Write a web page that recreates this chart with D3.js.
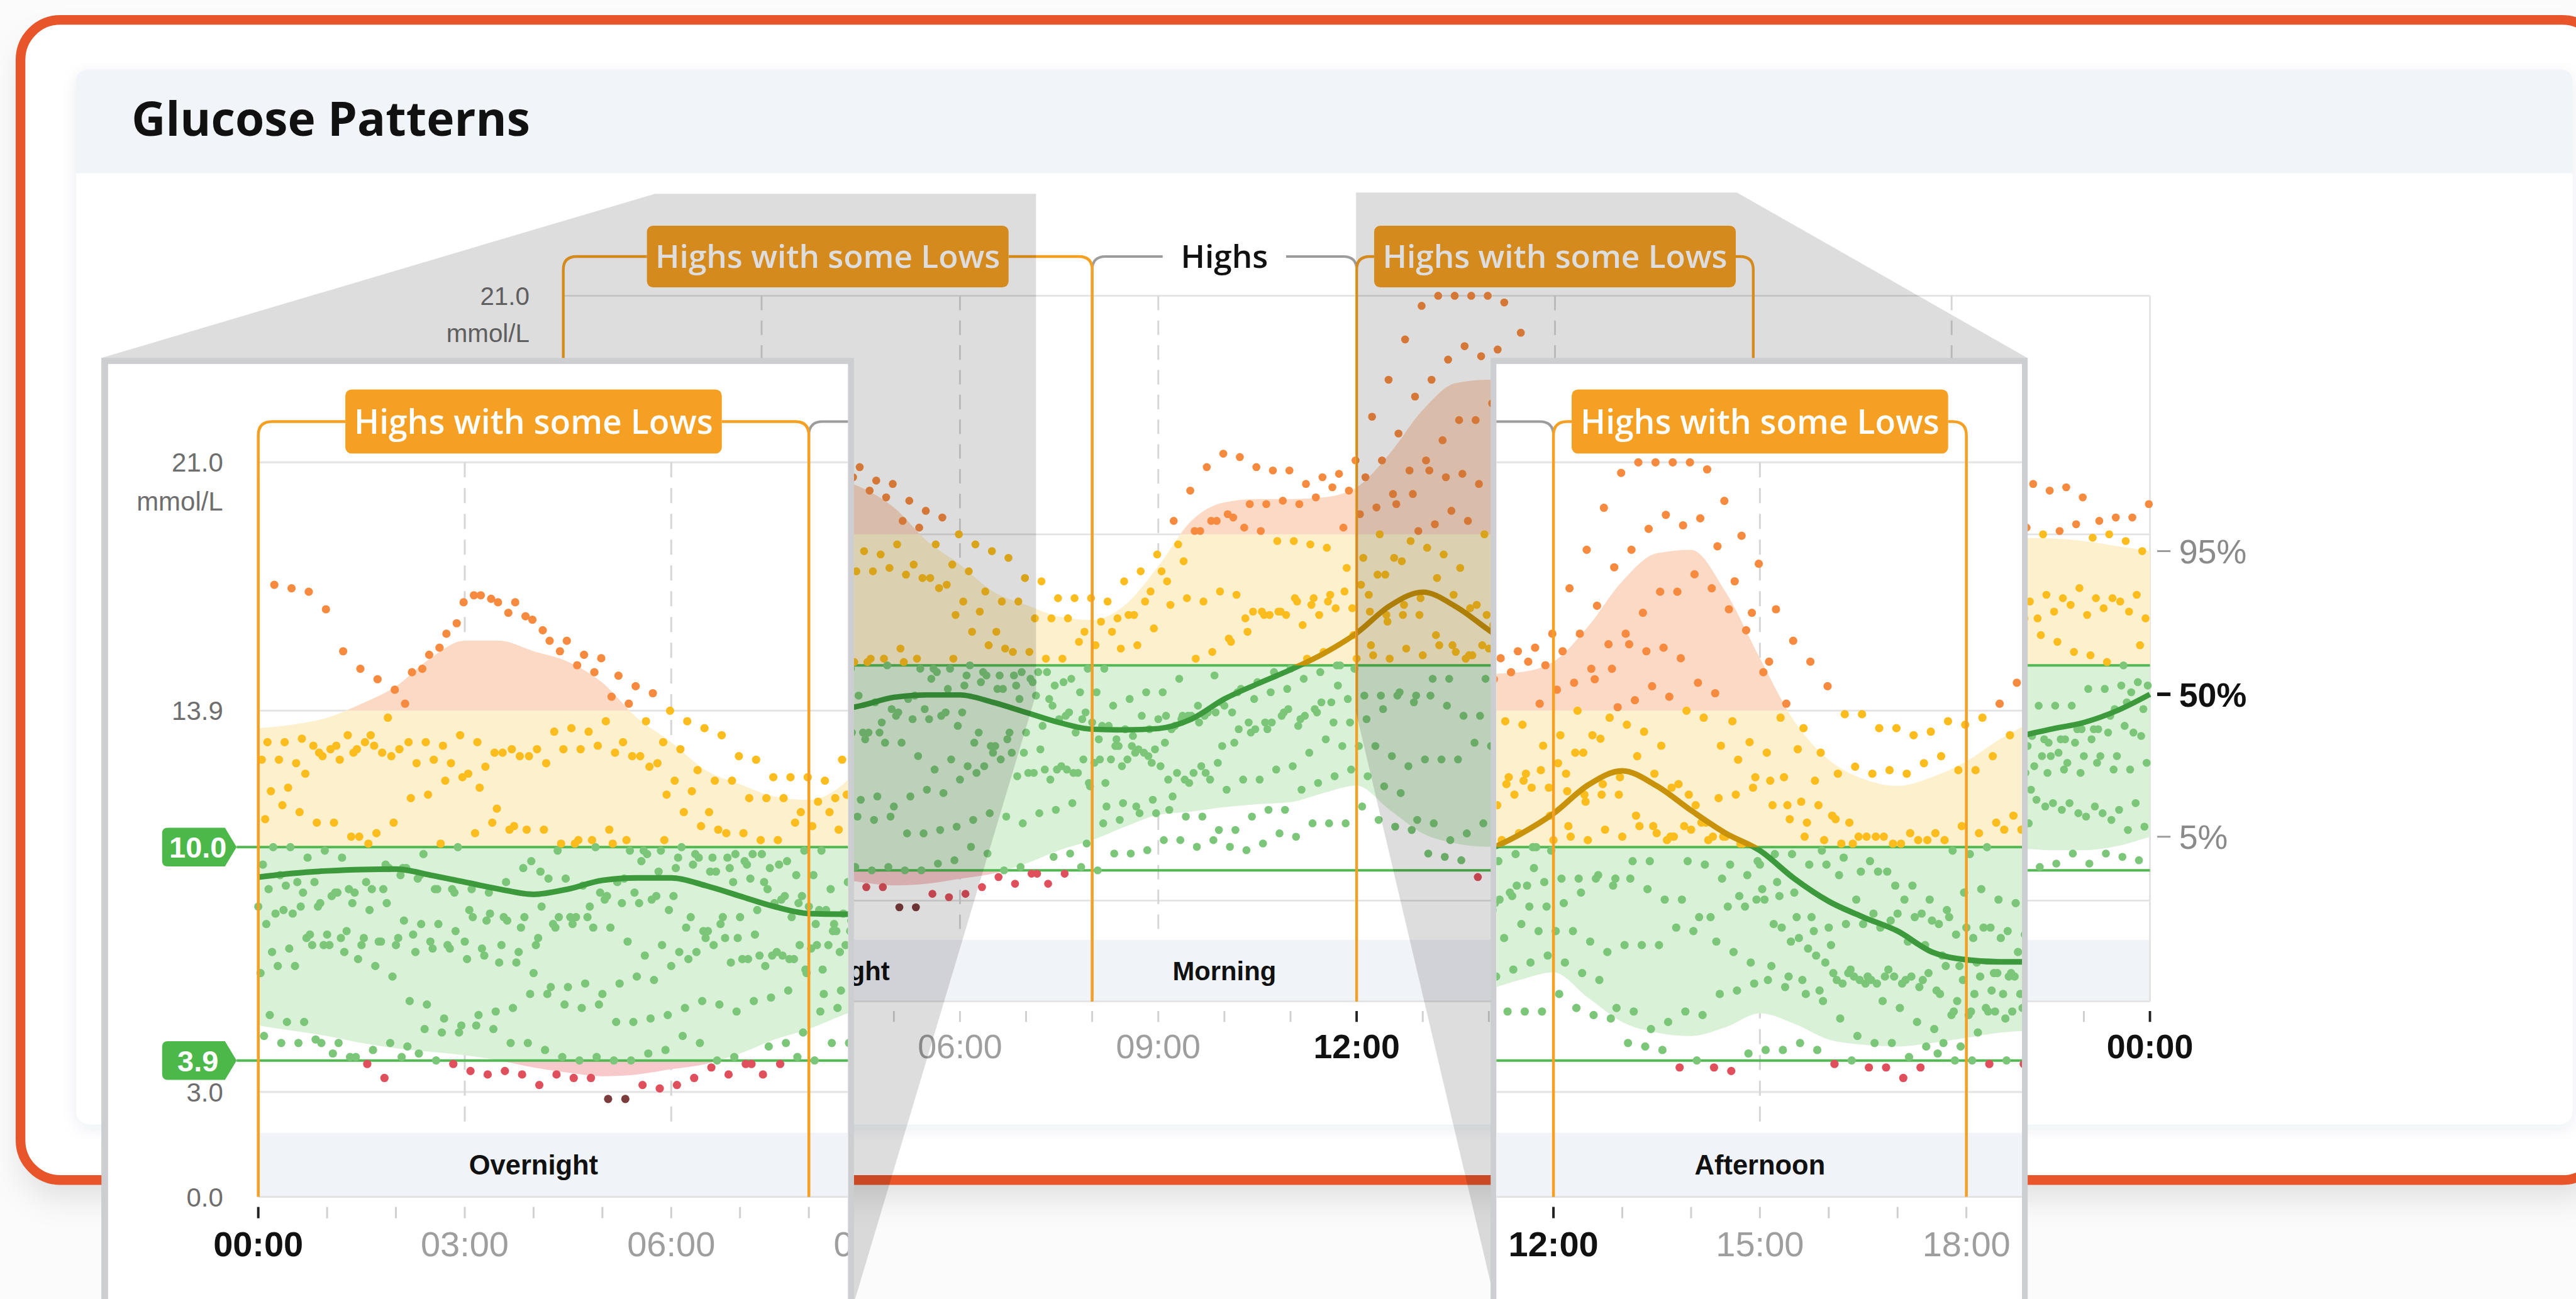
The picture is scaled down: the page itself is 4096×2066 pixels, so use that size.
<!DOCTYPE html>
<html>
<head>
<meta charset="utf-8">
<title>Glucose Patterns</title>
<script src="https://cdn.jsdelivr.net/npm/d3@7/dist/d3.min.js"></script>
<style>
  html, body { margin: 0; padding: 0; background: #fbfbfb; overflow: hidden; }
  svg { display: block; }
</style>
</head>
<body>
<svg id="chart" width="4096" height="2066"></svg>
<script>
// ---------- data ----------
// Percentile curves (mmol/L), every half hour across the day
const hours = [0,0.5,1,1.5,2,2.5,3,3.5,4,4.5,5,5.5,6,6.5,7,7.5,8,8.5,9,9.5,10,10.5,11,11.5,12,12.5,13,13.5,14,14.5,15,15.5,16,16.5,17,17.5,18,18.5,19,19.5,20,20.5,21,21.5,22,22.5,23,23.5,24];
const p5  = [4.9,4.75,4.6,4.4,4.25,4.15,4.05,3.9,3.7,3.55,3.45,3.5,3.65,3.8,4.1,4.5,4.8,5.2,5.55,5.65,5.78,5.87,5.93,6.2,6.42,5.7,5.0,4.7,4.6,4.85,5.25,4.95,4.5,4.35,4.3,4.4,4.55,4.7,4.75,4.7,4.6,4.55,4.5,4.5,4.55,4.5,4.5,4.62,4.9];
const p50 = [9.14,9.25,9.32,9.36,9.37,9.2,9.0,8.8,8.65,8.8,9.05,9.12,9.12,8.9,8.6,8.3,8.1,8.08,8.12,8.4,9.0,9.45,9.87,10.35,10.96,11.77,12.18,11.75,11.05,10.4,9.9,9.1,8.45,8.0,7.6,7.0,6.78,6.72,6.72,6.8,6.95,7.15,7.4,7.65,7.88,8.1,8.3,8.65,9.14];
const p95 = [13.4,13.5,13.7,14.1,14.6,15.4,15.9,15.9,15.6,15.3,14.7,13.7,13.0,12.2,11.8,11.45,11.35,11.8,12.95,14.3,14.85,14.95,14.95,15.0,15.3,16.3,17.6,18.4,18.5,17.3,15.4,13.6,12.5,11.95,11.75,12.0,12.45,13.1,13.6,13.8,13.9,14.0,14.0,13.9,13.8,13.78,13.7,13.55,13.4];

// Sensor readings: one row per day, every 15 minutes, in tenths of mmol/L
const traceOffsetMin = [5,10,2,12,7,0,9,4,13,6,11,3,8,14];
const readingTraces = [
 [46,44,44,45,41,40,38,34,40,41,39,38,36,35,36,35,32,35,34,34,28,28,32,31,
  32,34,37,35,38,35,38,40,39,44,44,45,48,48,46,48,46,45,47,50,49,53,53,53,
  58,54,52,51,44,43,42,37,39,37,36,41,42,42,44,42,38,39,37,37,34,37,41,39,
  39,38,39,38,42,40,42,43,40,42,40,39,42,42,40,43,43,40,41,44,41,44,43,42],
 [52,50,50,44,44,40,42,44,43,48,47,47,49,48,44,44,42,40,39,40,39,39,41,42,
  46,44,39,40,38,43,44,47,53,54,58,60,57,55,55,51,51,55,57,57,63,65,67,69,
  67,64,62,54,53,48,50,53,52,58,59,61,66,63,58,56,51,46,44,44,40,43,44,43,
  47,53,53,51,52,49,48,44,44,44,42,45,49,48,51,54,53,58,57,56,58,54,51,52],
 [64,66,66,72,72,76,74,73,74,70,71,71,68,69,72,70,72,78,80,80,85,84,84,86,
  86,80,76,74,68,69,70,68,71,72,72,74,70,68,68,66,63,66,66,69,70,74,78,76,
  76,76,73,70,72,72,72,77,76,80,83,83,88,86,80,76,72,64,61,56,54,50,48,52,
  52,54,58,58,61,56,56,54,49,50,47,47,51,54,55,61,62,60,59,59,55,56,57,59],
 [70,71,74,72,74,68,66,63,56,55,51,49,52,53,54,58,58,55,54,55,50,50,51,52,
  54,56,55,53,56,57,59,65,65,70,75,75,81,85,85,89,92,90,92,93,96,98,100,109,
  116,115,115,115,109,106,103,96,95,91,86,85,78,73,71,67,61,62,61,63,63,64,66,62,
  63,64,63,68,67,70,67,64,64,59,59,59,56,58,62,61,63,68,69,68,71,69,69,71],
 [78,82,83,83,87,84,82,84,79,78,78,76,80,81,79,80,83,80,80,77,77,73,69,72,
  70,70,72,67,68,66,69,72,72,78,79,81,85,85,83,86,86,83,83,85,82,87,89,90,
  91,91,91,89,91,88,85,85,80,73,70,67,62,60,62,59,62,63,62,65,62,62,58,56,
  58,59,63,68,66,68,69,65,68,66,65,68,66,64,67,67,68,73,74,77,78,80,82,79],
 [83,81,81,75,75,70,72,73,72,75,73,72,73,71,67,67,64,60,60,61,58,61,63,62,
  66,68,74,80,80,82,84,80,83,82,81,85,84,82,85,86,88,93,95,98,99,102,104,100,
  102,103,102,105,103,106,104,103,105,102,103,101,95,90,87,80,77,78,78,77,81,80,79,80,
  77,77,74,70,71,67,63,63,57,55,54,51,54,58,60,65,71,70,73,71,73,73,73,80],
 [88,89,87,84,87,87,88,94,94,98,101,100,104,107,105,105,105,101,102,100,101,99,98,102,
  100,97,93,90,91,88,86,86,82,76,74,71,66,66,70,71,77,80,81,86,84,86,83,83,
  84,87,92,91,96,96,102,106,107,114,115,117,119,112,103,99,92,85,81,79,73,72,69,66,
  67,64,64,65,62,66,71,72,79,82,84,88,86,83,83,80,76,78,78,81,81,85,89,87],
 [95,92,90,90,86,88,90,88,92,91,88,88,82,79,80,77,74,77,78,83,86,91,96,93,
  94,95,93,97,96,98,95,92,92,88,90,92,92,96,102,104,108,114,116,116,120,118,119,122,
  124,127,132,137,135,133,129,118,112,103,95,92,85,77,74,69,64,65,63,63,61,60,59,53,
  53,53,51,54,53,59,61,65,73,78,87,94,96,94,92,86,85,88,88,88,93,93,94,95],
 [100,100,97,99,97,103,104,107,114,115,119,120,117,111,106,96,91,91,89,87,90,87,85,82,
  77,76,78,74,75,69,68,64,58,59,56,56,61,65,68,76,81,81,83,87,85,89,94,99,
  106,113,118,120,126,121,117,115,107,103,101,96,98,98,95,95,97,93,93,89,89,85,82,87,
  88,85,84,76,75,69,69,70,68,72,72,73,76,77,76,79,79,77,78,81,81,87,92,94],
 [108,112,110,107,107,103,101,95,94,92,88,87,88,87,90,94,93,99,101,102,105,102,99,99,
  97,98,97,94,95,90,85,84,78,76,76,73,77,84,88,97,107,110,115,116,119,120,121,129,
  132,139,148,151,158,156,157,154,147,144,136,130,127,120,113,112,108,101,96,93,85,81,78,75,
  74,77,76,75,79,81,84,93,95,101,107,109,116,118,115,115,114,109,107,104,103,101,100,106],
 [116,117,121,126,125,128,129,126,130,130,129,132,130,127,128,126,124,128,128,129,127,126,123,115,
  110,106,105,98,98,94,96,99,99,105,106,111,118,120,119,122,121,116,115,115,112,115,117,117,
  121,127,131,140,142,146,143,139,137,129,125,120,112,108,107,102,101,103,103,101,104,102,102,106,
  104,107,109,111,117,119,121,125,125,121,121,120,116,115,117,115,119,121,120,123,120,120,116,114],
 [125,125,124,129,128,132,130,127,128,124,125,124,121,123,127,126,128,133,134,133,136,130,126,124,
  119,116,110,104,104,102,102,107,106,110,115,119,128,136,140,143,145,141,140,137,137,136,135,141,
  145,147,151,158,161,167,173,173,178,174,168,162,150,137,128,119,109,107,103,103,101,102,104,99,
  98,100,105,105,108,103,103,100,95,96,93,92,96,101,105,112,115,114,116,118,115,117,119,121],
 [130,130,131,127,129,127,132,137,141,151,157,164,172,171,167,166,162,156,152,150,143,141,136,130,
  128,122,119,119,114,114,114,110,113,114,115,122,125,131,140,143,144,148,148,149,148,150,153,152,
  156,161,169,180,185,191,195,192,194,186,176,167,153,141,134,127,121,123,121,122,121,124,126,122,
  122,126,132,132,136,135,138,140,139,142,141,140,143,142,139,142,141,139,140,142,138,139,137,134],
 [175,174,173,168,156,151,148,145,150,155,161,170,172,170,170,165,159,159,155,154,149,146,144,139,
  136,134,132,126,125,120,120,120,119,125,128,133,143,152,159,163,162,159,158,158,154,156,157,161,
  174,185,197,207,215,220,220,211,208,199,189,181,168,159,153,146,138,138,134,134,132,133,136,135,
  137,141,147,148,153,152,155,156,154,157,155,153,154,152,150,153,154,152,153,150,143,144,144,148]
];

// Periods of the day and the pattern flagged for each
const periodNames = ["Overnight", "Morning", "Afternoon", "Evening"];
const periodBounds = [0, 8, 12, 18, 24];
const periodPatterns = ["Highs with some Lows", "Highs", "Highs with some Lows", ""];
const periodPatternKind = ["alert", "plain", "alert", "none"];

// Axis labels
const yGridValues = [21.0, 13.9, 3.0, 0.0];
const targetRange = [10.0, 3.9];
const xTickHours = [0, 3, 6, 9, 12, 15, 18, 21, 24];
const xTickLabels = ["00:00", "03:00", "06:00", "09:00", "12:00", "15:00", "18:00", "21:00", "00:00"];
const percentileLabels = ["95%", "50%", "5%"];
const titleText = "Glucose Patterns";
const unitText = "mmol/L";

// ---------- setup ----------
const S = 0.96;
const svg = d3.select("#chart");
const defs = svg.append("defs");
const root = svg.append("g").attr("transform", `scale(${S})`);

const AXIS_FONT = "'Liberation Sans', Arial, sans-serif";
const LABEL_FONT = "'Open Sans', 'Noto Sans', sans-serif";

const x = d3.scaleLinear().domain([0, 24]).range([933, 3561]);
const y = d3.scaleLinear().domain([0, 21]).range([1659, 490]);
const ZOOM = 1.041;

const C = {
  high: "#fcd9c5", mid: "#fdf0cc", target: "#d9f1d7", low: "#f8c9ca",
  ptHigh: "#f68b40", ptMid: "#fbbd1e", ptTarget: "#7bc679", ptLow: "#e0505c", ptVeryLow: "#7d3c3c",
  medTarget: "#3c9a3c", medMid: "#c8930b",
  green: "#52b852", badge: "#4cb84a", orange: "#f6a023", grid: "#e3e3e3"
};

function clipBand(id, y0, y1) {
  defs.append("clipPath").attr("id", id).attr("clipPathUnits", "userSpaceOnUse")
    .append("rect").attr("x", -5000).attr("y", y0).attr("width", 20000).attr("height", y1 - y0);
}
clipBand("zHigh", -5000, y(13.9));
clipBand("zMid", y(13.9), y(10));
clipBand("zTarget", y(10), y(3.9));
clipBand("zLow", y(3.9), 8000);
clipBand("zAbove10", -5000, y(10));
clipBand("zBelow10", y(10), 8000);

function blurFilter(id, sd) {
  defs.append("filter").attr("id", id)
    .attr("x", "-10%").attr("y", "-10%").attr("width", "120%").attr("height", "130%")
    .append("feGaussianBlur").attr("stdDeviation", sd);
}
blurFilter("frameBlur", 26);
blurFilter("cardBlur", 12);

const readings = [];
readingTraces.forEach((tr, i) => {
  tr.forEach((v10, j) => readings.push({ t: j * 0.25 + traceOffsetMin[i] / 60, v: v10 / 10 }));
});

function pointColor(v) {
  if (v > 13.9) return C.ptHigh;
  if (v > 10) return C.ptMid;
  if (v >= 3.9) return C.ptTarget;
  if (v >= 3.0) return C.ptLow;
  return C.ptVeryLow;
}

// ---------- page frame and card ----------
root.append("rect").attr("width", 4266).attr("height", 2152).attr("fill", "#fbfbfb");
const FR = { x: 34, y: 33, w: 4310 - 34, h: 1955 - 33, r: 66 };
root.append("rect").attr("x", FR.x).attr("y", FR.y).attr("width", FR.w).attr("height", FR.h)
  .attr("rx", FR.r).attr("fill", "#000").attr("fill-opacity", 0.11)
  .attr("transform", "translate(0,30)").attr("filter", "url(#frameBlur)");
root.append("rect").attr("x", FR.x).attr("y", FR.y).attr("width", FR.w).attr("height", FR.h)
  .attr("rx", FR.r).attr("fill", "#ffffff");

const CARD = { x0: 126, y0: 115, x1: 4261, y1: 1863, r: 22, head: 287 };
root.append("rect").attr("x", CARD.x0).attr("y", CARD.y0).attr("width", CARD.x1 - CARD.x0).attr("height", CARD.y1 - CARD.y0)
  .attr("rx", CARD.r).attr("fill", "#2a3f66").attr("fill-opacity", 0.08)
  .attr("transform", "translate(0,7)").attr("filter", "url(#cardBlur)");
root.append("rect").attr("x", CARD.x0).attr("y", CARD.y0).attr("width", CARD.x1 - CARD.x0).attr("height", CARD.y1 - CARD.y0)
  .attr("rx", CARD.r).attr("fill", "#ffffff");
root.append("path")
  .attr("d", `M${CARD.x0},${CARD.head} V${CARD.y0 + CARD.r} Q${CARD.x0},${CARD.y0} ${CARD.x0 + CARD.r},${CARD.y0} H${CARD.x1 - CARD.r} Q${CARD.x1},${CARD.y0} ${CARD.x1},${CARD.y0 + CARD.r} V${CARD.head} Z`)
  .attr("fill", "#f1f4f8");

const title = root.append("text").attr("x", 218).attr("y", 225)
  .attr("font-family", LABEL_FONT).attr("font-weight", 700).attr("font-size", 74)
  .attr("fill", "#111").text(titleText);
{
  const w = title.node().getComputedTextLength();
  if (w > 0) title.attr("font-size", 74 * 660 / w);
}

root.append("rect").attr("x", FR.x).attr("y", FR.y).attr("width", FR.w).attr("height", FR.h)
  .attr("rx", FR.r).attr("fill", "none").attr("stroke", "#e8552a").attr("stroke-width", 16);

// font size for the pattern labels, fitted to the label box
let labelFs = 54;
{
  const t = root.append("text").attr("font-family", LABEL_FONT).attr("font-weight", 600)
    .attr("font-size", 54).text(periodPatterns[0]);
  const w = t.node().getComputedTextLength();
  t.remove();
  if (w > 0) labelFs = 54 * 571 / w;
}

// ---------- the day chart (drawn in chart coordinates) ----------
function drawChart(g) {
  const x0 = x(0), x24 = x(24), yTop = y(21), yBase = y(0);
  const bandTop = yBase - 102;

  // period band
  g.append("rect").attr("x", x0).attr("y", bandTop).attr("width", x24 - x0).attr("height", yBase - bandTop)
    .attr("fill", "#f0f3f8");

  // grid
  yGridValues.forEach(v => g.append("line").attr("x1", x0).attr("x2", x24).attr("y1", y(v)).attr("y2", y(v))
    .attr("stroke", C.grid).attr("stroke-width", 3));
  g.append("line").attr("x1", x24).attr("x2", x24).attr("y1", yTop).attr("y2", yBase)
    .attr("stroke", C.grid).attr("stroke-width", 3);
  xTickHours.filter(h => h % 12 !== 0).forEach(h => g.append("line")
    .attr("x1", x(h)).attr("x2", x(h)).attr("y1", yTop).attr("y2", bandTop - 18)
    .attr("stroke", "#d6d6d6").attr("stroke-width", 3).attr("stroke-dasharray", "24 17"));

  // 5-95% band, coloured by range
  const area = d3.area().x((d, i) => x(hours[i])).y0((d, i) => y(p5[i])).y1((d, i) => y(p95[i]))
    .curve(d3.curveMonotoneX);
  const bandD = area(hours);
  [["zHigh", C.high], ["zMid", C.mid], ["zTarget", C.target], ["zLow", C.low]].forEach(([id, fill]) =>
    g.append("path").attr("d", bandD).attr("fill", fill).attr("clip-path", `url(#${id})`));

  // target range lines
  targetRange.forEach(v => g.append("line").attr("x1", 898.5).attr("x2", x24).attr("y1", y(v)).attr("y2", y(v))
    .attr("stroke", C.green).attr("stroke-width", 4));

  // readings
  g.append("g").selectAll("circle").data(readings).join("circle")
    .attr("cx", d => x(d.t)).attr("cy", d => y(Math.min(d.v, 21))).attr("r", 6.6)
    .attr("fill", d => pointColor(d.v));

  // median
  const line = d3.line().x((d, i) => x(hours[i])).y((d, i) => y(p50[i])).curve(d3.curveMonotoneX);
  const medD = line(hours);
  [["zBelow10", C.medTarget], ["zAbove10", C.medMid]].forEach(([id, col]) =>
    g.append("path").attr("d", medD).attr("fill", "none").attr("stroke", col).attr("stroke-width", 9)
      .attr("stroke-linejoin", "round").attr("clip-path", `url(#${id})`));

  // period brackets and pattern labels
  const yb = 425, rB = 22;
  const order = [1, 0, 2, 3];
  order.forEach(i => {
    const label = periodPatterns[i];
    if (!label) return;
    const xa = x(periodBounds[i]), xb = x(periodBounds[i + 1]), xm = (xa + xb) / 2;
    const alert = periodPatternKind[i] === "alert";
    const col = alert ? C.orange : "#9c9c9c";
    const lines = g.append("g");
    const txt = g.append("text").attr("x", xm).attr("y", yb).attr("dy", "0.36em")
      .attr("text-anchor", "middle").attr("font-family", LABEL_FONT).attr("font-weight", 600)
      .attr("font-size", labelFs).attr("fill", alert ? "#ffffff" : "#111111").text(label);
    let half;
    if (alert) {
      half = 299.5;
      lines.append("rect").attr("x", xm - half).attr("y", yb - 51).attr("width", 2 * half).attr("height", 102)
        .attr("rx", 10).attr("fill", C.orange);
    } else {
      half = txt.node().getComputedTextLength() / 2 + 30;
    }
    const path = `M${xa},${yBase} L${xa},${yb + rB} Q${xa},${yb} ${xa + rB},${yb} L${xm - half},${yb}` +
                 ` M${xm + half},${yb} L${xb - rB},${yb} Q${xb},${yb} ${xb},${yb + rB} L${xb},${yBase}`;
    lines.insert("path", ":first-child").attr("d", path).attr("fill", "none")
      .attr("stroke", col).attr("stroke-width", alert ? 4.5 : 4);
  });

  // period names
  periodNames.forEach((nm, i) => g.append("text")
    .attr("x", (x(periodBounds[i]) + x(periodBounds[i + 1])) / 2).attr("y", bandTop + 51).attr("dy", "0.36em")
    .attr("text-anchor", "middle").attr("font-family", AXIS_FONT).attr("font-weight", 700)
    .attr("font-size", 43.5).attr("fill", "#111").text(nm));

  // y labels
  yGridValues.forEach(v => g.append("text").attr("x", 877).attr("y", y(v)).attr("dy", "0.36em")
    .attr("text-anchor", "end").attr("font-family", AXIS_FONT).attr("font-size", 42).attr("fill", "#6e6e6e")
    .text(v.toFixed(1)));
  g.append("text").attr("x", 877).attr("y", y(21) + 62).attr("dy", "0.36em")
    .attr("text-anchor", "end").attr("font-family", AXIS_FONT).attr("font-size", 42).attr("fill", "#6e6e6e")
    .text(unitText);

  // target badges
  targetRange.forEach(v => {
    const yc = y(v), h2 = 30.75, L = 780, R = 880, T = 898.5, r = 9;
    g.append("path").attr("d",
      `M${L + r},${yc - h2} L${R},${yc - h2} L${T},${yc} L${R},${yc + h2} L${L + r},${yc + h2} ` +
      `Q${L},${yc + h2} ${L},${yc + h2 - r} L${L},${yc - h2 + r} Q${L},${yc - h2} ${L + r},${yc - h2} Z`)
      .attr("fill", C.badge);
    g.append("text").attr("x", 837).attr("y", yc).attr("dy", "0.36em").attr("text-anchor", "middle")
      .attr("font-family", AXIS_FONT).attr("font-weight", 700).attr("font-size", 47).attr("fill", "#fff")
      .text(v.toFixed(1));
  });

  // x ticks and labels
  d3.range(0, 25).forEach(h => g.append("line").attr("x1", x(h)).attr("x2", x(h)).attr("y1", 1675).attr("y2", 1693)
    .attr("stroke", h % 12 === 0 ? "#222" : "#d0d0d0").attr("stroke-width", h % 12 === 0 ? 4 : 3));
  xTickHours.forEach((h, i) => g.append("text").attr("x", x(h)).attr("y", 1733).attr("dy", "0.36em")
    .attr("text-anchor", "middle").attr("font-family", AXIS_FONT)
    .attr("font-weight", h % 12 === 0 ? 700 : 400).attr("font-size", 56)
    .attr("fill", h % 12 === 0 ? "#111" : "#9e9e9e").text(xTickLabels[i]));

  // percentile labels at the end of the day
  const ends = [p95[p95.length - 1], p50[p50.length - 1], p5[p5.length - 1]];
  ends.forEach((v, i) => {
    const strong = i === 1;
    g.append("line").attr("x1", x24 + 12).attr("x2", x24 + 34).attr("y1", y(v)).attr("y2", y(v))
      .attr("stroke", strong ? "#111" : "#9a9a9a").attr("stroke-width", strong ? 6 : 3);
    g.append("text").attr("x", x24 + 48).attr("y", y(v)).attr("dy", "0.36em")
      .attr("font-family", AXIS_FONT).attr("font-weight", strong ? 700 : 400).attr("font-size", 56)
      .attr("fill", strong ? "#111" : "#8a8a8a").text(percentileLabels[i]);
  });
}

// drop texts that end up fully hidden (outside a view, or under a magnified view)
function pruneTexts(g, tx, ty, s, vis, covers) {
  g.selectAll("text").each(function () {
    const b = this.getBBox();
    const r = [tx + s * b.x, ty + s * b.y, tx + s * (b.x + b.width), ty + s * (b.y + b.height)];
    const outside = r[2] <= vis[0] || r[0] >= vis[2] || r[3] <= vis[1] || r[1] >= vis[3];
    const covered = covers.some(o => r[0] >= o[0] && r[2] <= o[2] && r[1] >= o[1] && r[3] <= o[3]);
    if (outside || covered) this.remove();
  });
}

const insetDefs = [
  { id: "insetL", outer: [168, 593, 1414.5, 2200], inner: [179, 603, 1404.5, 2200], tx: 427.8 - x(0) * ZOOM, ty: 766 - y(21) * ZOOM },
  { id: "insetR", outer: [2469, 593, 3358.5, 2200], inner: [2478.5, 603, 3349, 2200], tx: 2573 - x(12) * ZOOM, ty: 766 - y(21) * ZOOM }
];

// main chart
const mainG = root.append("g");
drawChart(mainG);
pruneTexts(mainG, 0, 0, 1, [0, 0, 4266, 2152], insetDefs.map(d => d.outer));

// projection shading towards the magnified views
const cones = [
  [[1085, 321], [1716, 321], [1716, 1150], [1414, 2160], [168, 2160], [168, 593]],
  [[2246, 319], [2877, 319], [3358, 593], [3358, 2160], [2469, 2160], [2469, 2126], [2246, 1180]]
];
cones.forEach(pts => root.append("polygon").attr("points", pts.map(p => p.join(",")).join(" "))
  .attr("fill", "#000").attr("fill-opacity", 0.135));

// magnified views
insetDefs.forEach(d => {
  root.append("rect").attr("x", d.outer[0]).attr("y", d.outer[1])
    .attr("width", d.outer[2] - d.outer[0]).attr("height", d.outer[3] - d.outer[1]).attr("fill", "#cdced1");
  root.append("rect").attr("x", d.inner[0]).attr("y", d.inner[1])
    .attr("width", d.inner[2] - d.inner[0]).attr("height", d.inner[3] - d.inner[1]).attr("fill", "#ffffff");
  defs.append("clipPath").attr("id", d.id).attr("clipPathUnits", "userSpaceOnUse")
    .append("rect").attr("x", d.inner[0]).attr("y", d.inner[1])
    .attr("width", d.inner[2] - d.inner[0]).attr("height", d.inner[3] - d.inner[1]);
  const holder = root.append("g").attr("clip-path", `url(#${d.id})`);
  const g = holder.append("g").attr("transform", `translate(${d.tx},${d.ty}) scale(${ZOOM})`);
  drawChart(g);
  pruneTexts(g, d.tx, d.ty, ZOOM, [d.inner[0], d.inner[1], d.inner[2], 2152], []);
});
</script>
</body>
</html>
